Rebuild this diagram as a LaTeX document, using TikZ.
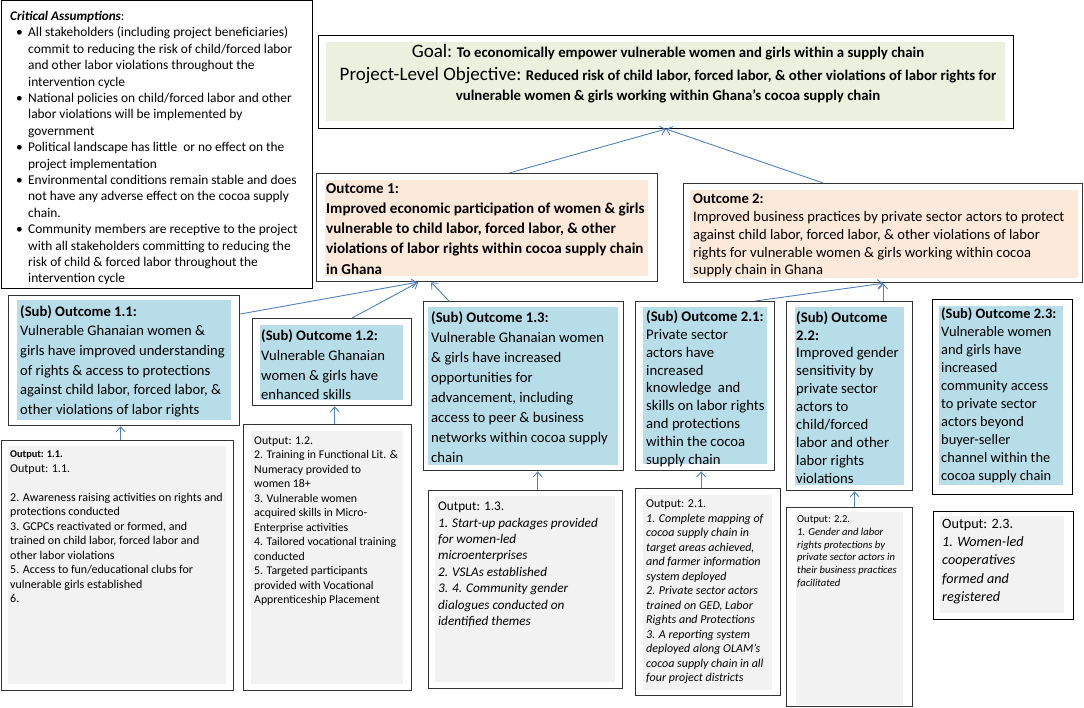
\documentclass[tikz,border=0pt]{standalone}
\usepackage{fontspec}
\setmainfont{Carlito}
\usetikzlibrary{arrows.meta}

\definecolor{goalgreen}{HTML}{EBF1DE}
\definecolor{peach}{HTML}{FDE9D9}
\definecolor{subblue}{HTML}{B7DDE8}
\definecolor{outgray}{HTML}{F2F2F2}
\definecolor{linkblue}{HTML}{4F81BD}

\begin{document}
\begin{tikzpicture}[x=1pt,y=-1pt,
    frame/.style={draw=black!80,line width=1.3pt,anchor=north west,inner sep=0pt},
    panel/.style={anchor=north west,inner sep=0pt},
    txt/.style={anchor=north west,inner sep=0pt,align=left},
    link/.style={draw=linkblue,line width=0.9pt,-{Straight Barb[length=5pt,width=9pt]}}]
  \useasboundingbox (0,0) rectangle (1084,708);

  % Critical assumptions
  \node[frame,line width=0.9pt,draw=black,minimum width=311pt,minimum height=288pt] (asm) at (0.5,0.5) {};
  \node[txt,font=\fontsize{13.2}{16.4}\selectfont] (asmhead) at (10,10.9) {\textbf{\textit{Critical Assumptions}}:};
  \node[txt,font=\fontsize{13.4}{16.4}\selectfont] (asmlist) at (16,26.9) {%
    \makebox[12pt][l]{\textbullet}All stakeholders (including project beneficiaries)\\
    \hspace*{12pt}commit to reducing the risk of child/forced labor\\
    \hspace*{12pt}and other labor violations throughout the\\
    \hspace*{12pt}intervention cycle\\
    \makebox[12pt][l]{\textbullet}National policies on child/forced labor and other\\
    \hspace*{12pt}labor violations will be implemented by\\
    \hspace*{12pt}government\\
    \makebox[12pt][l]{\textbullet}Political landscape has little\ \ or no effect on the\\
    \hspace*{12pt}project implementation\\
    \makebox[12pt][l]{\textbullet}Environmental conditions remain stable and does\\
    \hspace*{12pt}not have any adverse effect on the cocoa supply\\
    \hspace*{12pt}chain.\\
    \makebox[12pt][l]{\textbullet}Community members are receptive to the project\\
    \hspace*{12pt}with all stakeholders committing to reducing the\\
    \hspace*{12pt}risk of child \& forced labor throughout the\\
    \hspace*{12pt}intervention cycle};

  % Goal
  \node[frame,line width=1pt,draw=black,minimum width=695pt,minimum height=93pt] (goal) at (318,35) {};
  \node[panel,fill=goalgreen,minimum width=679pt,minimum height=79pt] (goalbg) at (326,42) {};
  \node[inner sep=0pt,anchor=north,align=center,font=\fontsize{14.8}{20.8}\selectfont] (goaltxt) at (668,44.5) {%
    {\fontsize{19}{20.8}\selectfont Goal:} \textbf{To economically empower vulnerable women and girls within a supply chain}\\[1.5pt]
    {\fontsize{19}{20.8}\selectfont Project-Level Objective:} \textbf{Reduced risk of child labor, forced labor, \& other violations of labor rights for}\\
    \textbf{vulnerable women \& girls working within Ghana’s cocoa supply chain}};

  % Outcomes
  \node[frame,minimum width=341pt,minimum height=108pt] (out1) at (316,173) {};
  \node[panel,fill=peach,minimum width=323pt,minimum height=96pt] (out1bg) at (325,180) {};
  \node[txt,font=\bfseries\fontsize{15.1}{20.3}\selectfont] (out1txt) at (326,182.9) {Outcome 1:\\
    Improved economic participation of women \& girls\\
    vulnerable to child labor, forced labor, \& other\\
    violations of labor rights within cocoa supply chain\\
    in Ghana};

  \node[frame,minimum width=399pt,minimum height=99pt] (out2) at (683,183) {};
  \node[panel,fill=peach,minimum width=388pt,minimum height=88pt] (out2bg) at (690,190) {};
  \node[txt,font=\fontsize{14.6}{17.8}\selectfont] (out2txt) at (693,194) {\textbf{Outcome 2:}\\
    Improved business practices by private sector actors to protect\\
    against child labor, forced labor, \& other violations of labor\\
    rights for vulnerable women \& girls working within cocoa\\
    supply chain in Ghana};

  % Sub outcomes
  \node[frame,minimum width=231pt,minimum height=130pt] (sub11) at (8,295) {};
  \node[panel,fill=subblue,minimum width=214pt,minimum height=120pt] (sub11bg) at (17,300) {};
  \node[txt,font=\fontsize{14.6}{19.6}\selectfont] (sub11txt) at (20,305.2) {\textbf{(Sub) Outcome 1.1:}\\
    Vulnerable Ghanaian women \&\\
    girls have improved understanding\\
    of rights \& access to protections\\
    against child labor, forced labor, \&\\
    other violations of labor rights};

  \node[frame,minimum width=159pt,minimum height=87pt] (sub12) at (252,318) {};
  \node[panel,fill=subblue,minimum width=143pt,minimum height=75pt] (sub12bg) at (260,325) {};
  \node[txt,font=\fontsize{14.6}{19.7}\selectfont] (sub12txt) at (261,329.7) {\textbf{(Sub) Outcome 1.2:}\\
    Vulnerable Ghanaian\\
    women \& girls have\\
    enhanced skills};

  \node[frame,minimum width=200pt,minimum height=169pt] (sub13) at (423,301) {};
  \node[panel,fill=subblue,minimum width=190pt,minimum height=158pt] (sub13bg) at (428,307) {};
  \node[txt,font=\fontsize{14.7}{20.1}\selectfont] (sub13txt) at (431,311.1) {\textbf{(Sub) Outcome 1.3:}\\
    Vulnerable Ghanaian women\\
    \& girls have increased\\
    opportunities for\\
    advancement, including\\
    access to peer \& business\\
    networks within cocoa supply\\
    chain};

  \node[frame,minimum width=139pt,minimum height=169pt] (sub21) at (635,301) {};
  \node[panel,fill=subblue,minimum width=124pt,minimum height=157pt] (sub21bg) at (643,307) {};
  \node[txt,font=\fontsize{14.7}{17.8}\selectfont] (sub21txt) at (646,310.5) {\textbf{(Sub) Outcome 2.1:}\\
    Private sector\\
    actors have\\
    increased\\
    knowledge\ \ and\\
    skills on labor rights\\
    and protections\\
    within the cocoa\\
    supply chain};

  \node[frame,minimum width=126pt,minimum height=189pt] (sub22) at (786,301) {};
  \node[panel,fill=subblue,minimum width=109pt,minimum height=178pt] (sub22bg) at (795,307) {};
  \node[txt,font=\fontsize{14.7}{17.9}\selectfont] (sub22txt) at (796,311) {\textbf{(Sub) Outcome}\\
    \textbf{2.2:}\\
    Improved gender\\
    sensitivity by\\
    private sector\\
    actors to\\
    child/forced\\
    labor and other\\
    labor rights\\
    violations};

  \node[frame,draw=black,minimum width=140pt,minimum height=195pt] (sub23) at (932,299) {};
  \node[panel,fill=subblue,minimum width=124pt,minimum height=179pt] (sub23bg) at (939,306) {};
  \node[txt,font=\fontsize{14.4}{17.9}\selectfont] (sub23txt) at (941,308.1) {\textbf{(Sub) Outcome 2.3:}\\
    Vulnerable women\\
    and girls have\\
    increased\\
    community access\\
    to private sector\\
    actors beyond\\
    buyer-seller\\
    channel within the\\
    cocoa supply chain};

  % Outputs
  \node[frame,minimum width=232pt,minimum height=250pt] (op11) at (1,440) {};
  \node[panel,fill=outgray,minimum width=218pt,minimum height=238pt] (op11bg) at (8,446) {};
  \node[txt,font=\fontsize{12}{14.5}\selectfont] (op11txt) at (10,450.6) {{\fontsize{10.3}{14.5}\selectfont\bfseries Output: 1.1.}\\
    Output: 1.1.\\
    \mbox{}\\
    2. Awareness raising activities on rights and\\
    protections conducted\\
    3. GCPCs reactivated or formed, and\\
    trained on child labor, forced labor and\\
    other labor violations\\
    5. Access to fun/educational clubs for\\
    vulnerable girls established\\
    6.};

  \node[frame,minimum width=168pt,minimum height=266pt] (op12) at (243,424) {};
  \node[panel,fill=outgray,minimum width=152pt,minimum height=253pt] (op12bg) at (251,431) {};
  \node[txt,font=\fontsize{11.8}{14.5}\selectfont] (op12txt) at (254,436.2) {Output: 1.2.\\
    2. Training in Functional Lit. \&\\
    Numeracy provided to\\
    women 18+\\
    3. Vulnerable women\\
    acquired skills in Micro-\\
    Enterprise activities\\
    4. Tailored vocational training\\
    conducted\\
    5. Targeted participants\\
    provided with Vocational\\
    Apprenticeship Placement};

  \node[frame,minimum width=194pt,minimum height=198pt] (op13) at (428,490) {};
  \node[panel,fill=outgray,minimum width=180pt,minimum height=186pt] (op13bg) at (435,496) {};
  \node[txt,font=\itshape\fontsize{13.2}{16.4}\selectfont] (op13txt) at (438,502) {{\upshape Output: 1.3.}\\
    1. Start-up packages provided\\
    for women-led\\
    microenterprises\\
    2. VSLAs established\\
    3. 4. Community gender\\
    dialogues conducted on\\
    identified themes};

  \node[frame,minimum width=145pt,minimum height=207pt] (op21) at (635,488) {};
  \node[panel,fill=outgray,minimum width=129pt,minimum height=195pt] (op21bg) at (643,495) {};
  \node[txt,font=\itshape\fontsize{12}{14.5}\selectfont] (op21txt) at (646,499.8) {{\upshape Output: 2.1.}\\
    1. Complete mapping of\\
    cocoa supply chain in\\
    target areas achieved,\\
    and farmer information\\
    system deployed\\
    2. Private sector actors\\
    trained on GED, Labor\\
    Rights and Protections\\
    3. A reporting system\\
    deployed along OLAM’s\\
    cocoa supply chain in all\\
    four project districts};

  \node[frame,minimum width=126pt,minimum height=199pt] (op22) at (786,507) {};
  \node[panel,fill=outgray,minimum width=107pt,minimum height=193pt] (op22bg) at (796,512) {};
  \node[txt,font=\itshape\fontsize{10.6}{12.9}\selectfont] (op22txt) at (797,515.2) {{\upshape Output: 2.2.}\\
    1. Gender and labor\\
    rights protections by\\
    private sector actors in\\
    their business practices\\
    facilitated};

  \node[frame,draw=black,minimum width=140pt,minimum height=108pt] (op23) at (933,511) {};
  \node[panel,fill=outgray,minimum width=124pt,minimum height=97pt] (op23bg) at (940,516) {};
  \node[txt,font=\itshape\fontsize{14.2}{18.2}\selectfont] (op23txt) at (942,519) {{\upshape Output: 2.3.}\\
    1. Women-led\\
    cooperatives\\
    formed and\\
    registered};

  % Links up the chain
  \draw[link] ([xshift=22pt]out1.north) -- (goal.south);
  \draw[link] ([xshift=-60pt]out2.north) -- (goal.south);
  \draw[link] ([yshift=-19pt]sub11.north east) -- ([xshift=-70pt]out1.south);
  \draw[link] ([xshift=20pt]sub12.north) -- ([xshift=-69pt]out1.south);
  \draw[link] ([xshift=26pt]sub13.north west) -- ([xshift=-56pt]out1.south);
  \draw[link] ([xshift=-20pt]sub21.north east) -- (out2.south);
  \draw[link] (out2.south |- sub22.north) -- (out2.south);
  \draw[link] ([xshift=3pt]op11.north) -- ([xshift=3pt]op11.north |- sub11.south);
  \draw[link] ([xshift=7pt]op12.north) -- ([xshift=7pt]op12.north |- sub12.south);
  \draw[link] ([xshift=12pt]op13.north) -- ([xshift=12pt]op13.north |- sub13.south);
  \draw[link] ([xshift=-7pt]op21.north) -- ([xshift=-7pt]op21.north |- sub21.south);
  \draw[link] ([xshift=5pt]op22.north) -- ([xshift=5pt]op22.north |- sub22.south);
\end{tikzpicture}
\end{document}
